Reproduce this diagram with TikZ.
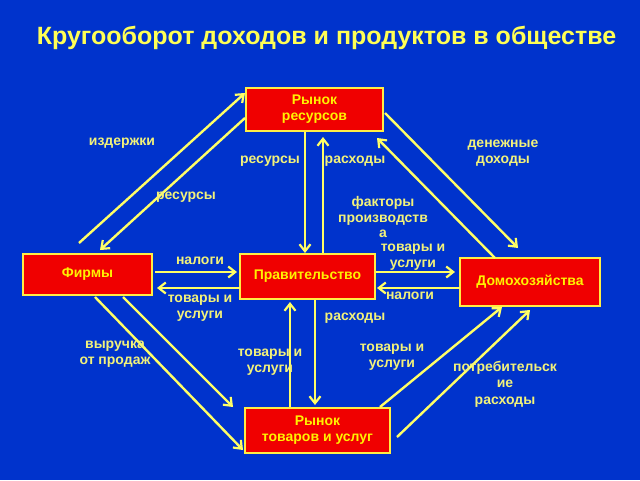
\documentclass[tikz,border=0pt]{standalone}
\usepackage{fontspec}
\setmainfont{Liberation Sans}
\usetikzlibrary{arrows.meta}
\definecolor{bg}{HTML}{0033CC}
\definecolor{ttl}{HTML}{FFFF55}
\definecolor{lbl}{HTML}{F2F27A}
\definecolor{boxred}{HTML}{F00000}
\definecolor{boxbd}{HTML}{FFEE44}
\definecolor{arr}{HTML}{FFFF66}
\tikzset{
  box/.style={draw=boxbd, line width=2pt, fill=boxred, text=yellow, font=\bfseries\fontsize{14}{16}\selectfont, align=center, inner sep=0pt},
  lab/.style={text=lbl, font=\bfseries\fontsize{14}{16.5}\selectfont, align=center, inner sep=0pt},
  flow/.style={draw=arr, line width=2.4pt, -{Straight Barb[length=7pt,width=11pt,line width=2.2pt]}},
}
\begin{document}
\begin{tikzpicture}[x=1pt,y=-1pt]
\fill[bg] (0,0) rectangle (640,480);
\useasboundingbox (0,0) rectangle (640,480);
\node[text=ttl, font=\bfseries\fontsize{25}{29}\selectfont, anchor=center] (title) at (326.5,38) {Кругооборот доходов и продуктов в обществе};

\node[box, minimum width=137pt, minimum height=43pt] (rr) at (314.5,109.5) {Рынок\\ресурсов};
\node[box, minimum width=129pt, minimum height=41pt] (firm) at (87.5,274.5) {Фирмы};
\node[box, minimum width=135pt, minimum height=45pt] (gov) at (307.5,276.5) {Правительство};
\node[box, minimum width=140pt, minimum height=48pt] (hh) at (530,282) {Домохозяйства};
\node[box, minimum width=145pt, minimum height=45pt] (gm) at (317.5,430.5) {Рынок\\товаров и услуг};

% endpoints
\coordinate (a1) at (79,243);   \coordinate (b1) at (245,93);
\coordinate (a2) at (245,118);  \coordinate (b2) at (100,250);
\coordinate (a3) at (305,132);  \coordinate (b3) at (305,253);
\coordinate (a4) at (323,253);  \coordinate (b4) at (323,137);
\coordinate (a5) at (385,113);  \coordinate (b5) at (518,248);
\coordinate (a6) at (495,258);  \coordinate (b6) at (377,138);
\coordinate (a7) at (155,272);  \coordinate (b7) at (237,272);
\coordinate (a8) at (240,288);  \coordinate (b8) at (157,288);
\coordinate (a9) at (376,272);  \coordinate (b9) at (455,272);
\coordinate (a10) at (460,288); \coordinate (b10) at (377,288);
\coordinate (a11) at (95,297);  \coordinate (b11) at (243,450);
\coordinate (a12) at (123,297); \coordinate (b12) at (233,407);
\coordinate (a13) at (315,300); \coordinate (b13) at (315,405);
\coordinate (a14) at (290,407); \coordinate (b14) at (290,302);
\coordinate (a15) at (380,407); \coordinate (b15) at (502,307);
\coordinate (a16) at (397,437); \coordinate (b16) at (530,310);
\foreach \i in {1,...,16} {\draw[flow] (a\i) -- (b\i);}

\node[lab] (l1) at (122,143) {издержки};
\node[lab] (l2) at (186,197) {ресурсы};
\node[lab] (l3) at (270,161) {ресурсы};
\node[lab] (l4) at (355,161) {расходы};
\node[lab] (l5) at (503,153) {денежные\\доходы};
\node[lab, font=\bfseries\fontsize{14}{15.5}\selectfont] (l6) at (383,217) {факторы\\производств\\а};
\node[lab] (l7) at (413,257) {товары и\\услуги};
\node[lab] (l8) at (200,261) {налоги};
\node[lab] (l9) at (200,308) {товары и\\услуги};
\node[lab] (l10) at (410,296) {налоги};
\node[lab] (l11) at (355,318) {расходы};
\node[lab] (l12) at (115,354) {выручка\\от продаж};
\node[lab] (l13) at (270,362) {товары и\\услуги};
\node[lab] (l14) at (392,357) {товары и\\услуги};
\node[lab] (l15) at (505,384) {потребительск\\ие\\расходы};
\end{tikzpicture}
\end{document}
